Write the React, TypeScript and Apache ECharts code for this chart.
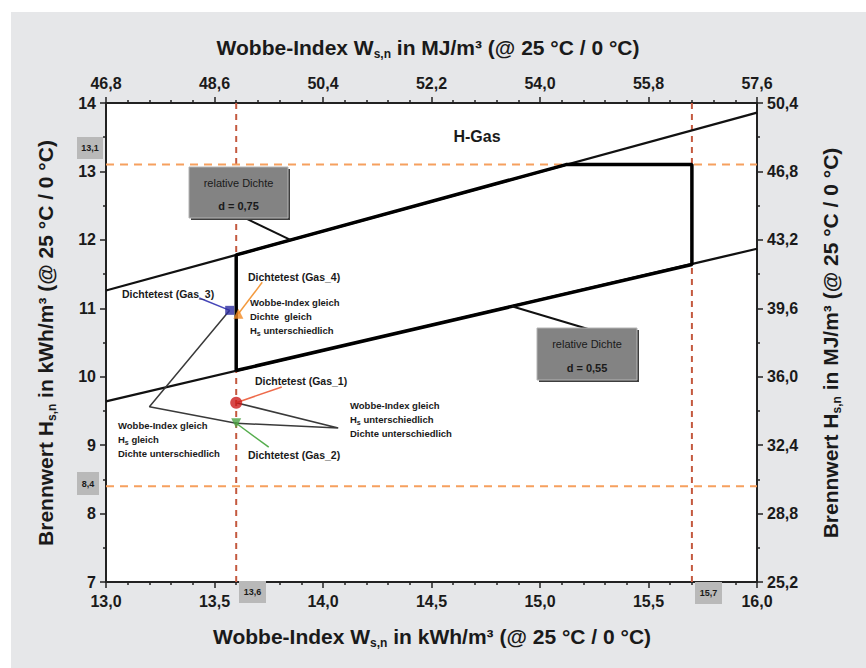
import React, { useEffect, useRef } from 'react';
import * as echarts from 'echarts';

// Relative density lines H = W * sqrt(d)
const upperLine = [[13.0, 11.26], [16.0, 13.86]]; // d = 0,75
const lowerLine = [[13.0, 9.64], [16.0, 11.87]]; // d = 0,55
// H-Gas region outline
const hGasBox = [[13.6, 10.09], [13.6, 11.78], [15.12, 13.1], [15.7, 13.1], [15.7, 11.64], [13.6, 10.09]];
// limits
const wLimits = [13.6, 15.7];
const hLimits = [13.1, 8.4];
// test gases [W, H]
const gas1 = [13.6, 9.62];
const gas2 = [13.6, 9.32];
const gas3 = [13.57, 10.97];
const gas4 = [13.61, 10.92];
// leader anchors [W, H]
const gas3Leader = [[13.43, 11.15], gas3];
const gas4Leader = [[13.72, 11.38], gas4];
const gas1Leader = [[13.81, 9.85], gas1];
const gas2Leader = [[13.75, 8.97], gas2];
const rightV = [gas1, [14.07, 9.25], gas2];
const leftV = [gas3, [13.2, 9.56], gas2];
const d75Leader = [[13.64, 12.32], [13.85, 12.0]];
const d55Leader = [[14.87, 11.03], [15.26, 10.66]];

const xTicksBottom = { min: 13.0, max: 16.0, interval: 0.5 };
const xTicksTop = { min: 46.8, max: 57.6, interval: 1.8 };
const yTicksLeft = { min: 7, max: 14, interval: 1 };
const yTicksRight = { min: 25.2, max: 50.4, interval: 3.6 };

const FONT = '"Liberation Sans", Arial, sans-serif';
const FONT2 = '"Liberation Sans", Arial, sans-serif';
const INK = '#1a1a1a';

const fmt1 = (v: number) => v.toFixed(1).replace('.', ',');

function axisCommon(minorSplit: number) {
  return {
    axisLine: { show: true, onZero: false, lineStyle: { color: '#222', width: 2 } },
    axisTick: { show: true, inside: false, length: 6, lineStyle: { color: '#222', width: 1.5 } },
    minorTick: { show: true, splitNumber: minorSplit, length: 3, lineStyle: { color: '#222', width: 1.5 } },
    splitLine: { show: false },
    minorSplitLine: { show: false },
  };
}

const labelStyle = { color: INK, fontFamily: FONT, fontWeight: 'bold' as const, fontSize: 16 };

function lineSeries(data: number[][], color: string, width: number, type: any = 'solid', z = 2) {
  return {
    type: 'line',
    data,
    symbol: 'none',
    silent: true,
    z,
    lineStyle: { color, width, type },
    xAxisIndex: 0,
    yAxisIndex: 0,
  };
}

function scatter(p: number[], symbol: string, size: number, color: string, rotate = 0) {
  return {
    type: 'scatter',
    data: [p],
    symbol,
    symbolSize: size,
    symbolRotate: rotate,
    itemStyle: { color },
    z: 10,
    silent: true,
    xAxisIndex: 0,
    yAxisIndex: 0,
  };
}

function calloutBox(x: number, y: number, w: number, h: number, l1: string, l2: string) {
  return [
    {
      type: 'rect', z: 50,
      shape: { x: x + 2, y: y + 2, width: w, height: h },
      style: { fill: '#3e3e3e' },
    },
    {
      type: 'rect', z: 51,
      shape: { x, y, width: w, height: h },
      style: { fill: '#838383', stroke: '#b4b4b4', lineWidth: 1 },
    },
    {
      type: 'text', z: 52, x: x + w / 2, y: y + h * 0.31,
      style: { text: l1, fill: INK, font: `11px ${FONT2}`, align: 'center', verticalAlign: 'middle' },
    },
    {
      type: 'text', z: 52, x: x + w / 2, y: y + h * 0.77,
      style: { text: l2, fill: INK, font: `bold 11px ${FONT2}`, align: 'center', verticalAlign: 'middle' },
    },
  ];
}

function valueBox(x: number, y: number, w: number, h: number, t: string) {
  return [
    { type: 'rect', z: 50, shape: { x, y, width: w, height: h }, style: { fill: '#b9b9b9' } },
    {
      type: 'text', z: 51, x: x + w / 2, y: y + h / 2,
      style: { text: t, fill: INK, font: `bold 9px ${FONT2}`, align: 'center', verticalAlign: 'middle' },
    },
  ];
}

const subRich = {
  sub: { fontSize: 7, fontWeight: 'bold', fontFamily: FONT2, fill: INK, verticalAlign: 'bottom', lineHeight: 6 },
};

function smallText(x: number, y: number, text: string) {
  return {
    type: 'text', z: 52, x, y,
    style: {
      text, fill: INK, fontFamily: FONT2, fontWeight: 'bold', fontSize: 9.5, lineHeight: 14,
      align: 'left', verticalAlign: 'top', rich: subRich,
    },
  };
}

function gasLabel(x: number, y: number, text: string) {
  return {
    type: 'text', z: 52, x, y,
    style: { text, fill: INK, font: `bold 10.5px ${FONT2}`, align: 'left', verticalAlign: 'middle' },
  };
}

const titleRich = {
  sub: { fontSize: 12, fontWeight: 'bold', fontFamily: FONT, fill: INK, verticalAlign: 'bottom', lineHeight: 8 },
};

function title(x: number, y: number, text: string, rotation = 0) {
  return {
    type: 'text', z: 60, x, y, rotation,
    style: {
      text, fill: INK, fontFamily: FONT, fontWeight: 'bold', fontSize: 21, lineHeight: 25,
      align: 'center', verticalAlign: 'middle', rich: titleRich,
    },
  };
}

export default function App() {
  const ref = useRef<HTMLDivElement>(null);
  useEffect(() => {
    if (!ref.current) return;
    const chart = echarts.init(ref.current, null, { renderer: 'svg' });
    const option: any = {
      animation: false,
      backgroundColor: '#ffffff',
      grid: { left: 106, top: 103, right: 109, bottom: 86, show: true, backgroundColor: '#ffffff', borderWidth: 0, z: 0 },
      xAxis: [
        {
          type: 'value', position: 'bottom', ...xTicksBottom, ...axisCommon(5),
          axisLabel: { ...labelStyle, margin: 11, formatter: fmt1 },
        },
        {
          type: 'value', position: 'top', ...xTicksTop, ...axisCommon(5),
          axisLabel: { ...labelStyle, margin: 12, formatter: fmt1 },
        },
      ],
      yAxis: [
        {
          type: 'value', position: 'left', ...yTicksLeft, ...axisCommon(2),
          axisLabel: { ...labelStyle, margin: 10, formatter: (v: number) => String(Math.round(v)) },
        },
        {
          type: 'value', position: 'right', ...yTicksRight, ...axisCommon(2),
          axisLabel: { ...labelStyle, margin: 10, formatter: fmt1 },
        },
      ],
      series: [
        lineSeries([[wLimits[0], 7], [wLimits[0], 14]], '#c4593f', 2, [6, 5], 3),
        lineSeries([[wLimits[1], 7], [wLimits[1], 14]], '#c4593f', 2, [6, 5], 3),
        lineSeries([[13, hLimits[0]], [16, hLimits[0]]], '#f6a05e', 2, [8, 6], 3),
        lineSeries([[13, hLimits[1]], [16, hLimits[1]]], '#f6a05e', 2, [8, 6], 3),
        lineSeries(upperLine, '#111', 2.3, 'solid', 4),
        lineSeries(lowerLine, '#111', 2.3, 'solid', 4),
        lineSeries(hGasBox, '#000', 3.5, 'solid', 5),
        lineSeries(d75Leader, '#111', 2, 'solid', 6),
        lineSeries(d55Leader, '#111', 2, 'solid', 6),
        lineSeries(leftV, '#3a3a3a', 1.5, 'solid', 6),
        lineSeries(rightV, '#3a3a3a', 1.5, 'solid', 6),
        lineSeries(gas3Leader, '#4646b8', 1.5, 'solid', 7),
        lineSeries(gas4Leader, '#f39a3e', 1.5, 'solid', 7),
        lineSeries(gas1Leader, '#ee6a4a', 1.5, 'solid', 7),
        lineSeries(gas2Leader, '#55ad4d', 1.5, 'solid', 7),
        scatter(gas3, 'rect', 9, '#2c2ca0'),
        scatter(gas4, 'triangle', 10, '#f28a22'),
        scatter(gas1, 'circle', 12, '#cc1c1c'),
        scatter(gas2, 'triangle', 10, '#4aa244', 180),
      ],
      graphic: [
        { type: 'rect', z: -100, silent: true, shape: { x: 11, y: 12, width: 866, height: 668 }, style: { fill: '#e6e7e9' } },
        title(428, 47, 'Wobbe-Index W{sub|s,n} in MJ/m³ (@ 25 °C / 0 °C)'),
        title(432, 636, 'Wobbe-Index W{sub|s,n} in kWh/m³ (@ 25 °C / 0 °C)'),
        title(45, 343, 'Brennwert H{sub|s,n} in kWh/m³ (@ 25 °C / 0 °C)', Math.PI / 2),
        title(830, 343, 'Brennwert H{sub|s,n} in MJ/m³ (@ 25 °C / 0 °C)', Math.PI / 2),
        {
          type: 'text', z: 52, x: 477, y: 136,
          style: { text: 'H-Gas', fill: INK, font: `bold 16px ${FONT2}`, align: 'center', verticalAlign: 'middle' },
        },
        ...calloutBox(189, 167, 99, 51, 'relative Dichte', 'd = 0,75'),
        ...calloutBox(537, 328, 100, 52, 'relative Dichte', 'd = 0,55'),
        ...valueBox(77, 137, 26, 22, '13,1'),
        ...valueBox(77, 472, 22, 23, '8,4'),
        ...valueBox(239, 581, 27, 22, '13,6'),
        ...valueBox(695, 582, 27, 22, '15,7'),
        gasLabel(122, 294, 'Dichtetest (Gas_3)'),
        gasLabel(248, 277, 'Dichtetest (Gas_4)'),
        gasLabel(255, 381, 'Dichtetest (Gas_1)'),
        gasLabel(248, 455, 'Dichtetest (Gas_2)'),
        smallText(250, 295, 'Wobbe-Index gleich\nDichte  gleich\nH{sub|s} unterschiedlich'),
        smallText(350, 398, 'Wobbe-Index gleich\nH{sub|s} unterschiedlich\nDichte unterschiedlich'),
        smallText(118, 418, 'Wobbe-Index gleich\nH{sub|s} gleich\nDichte unterschiedlich'),
      ],
    };
    chart.setOption(option);
    return () => chart.dispose();
  }, []);
  return (
    <div style={{ position: 'fixed', left: 0, top: 0, width: 866, height: 668, background: '#fff' }}>
      <div ref={ref} style={{ width: 866, height: 668 }} />
    </div>
  );
}
